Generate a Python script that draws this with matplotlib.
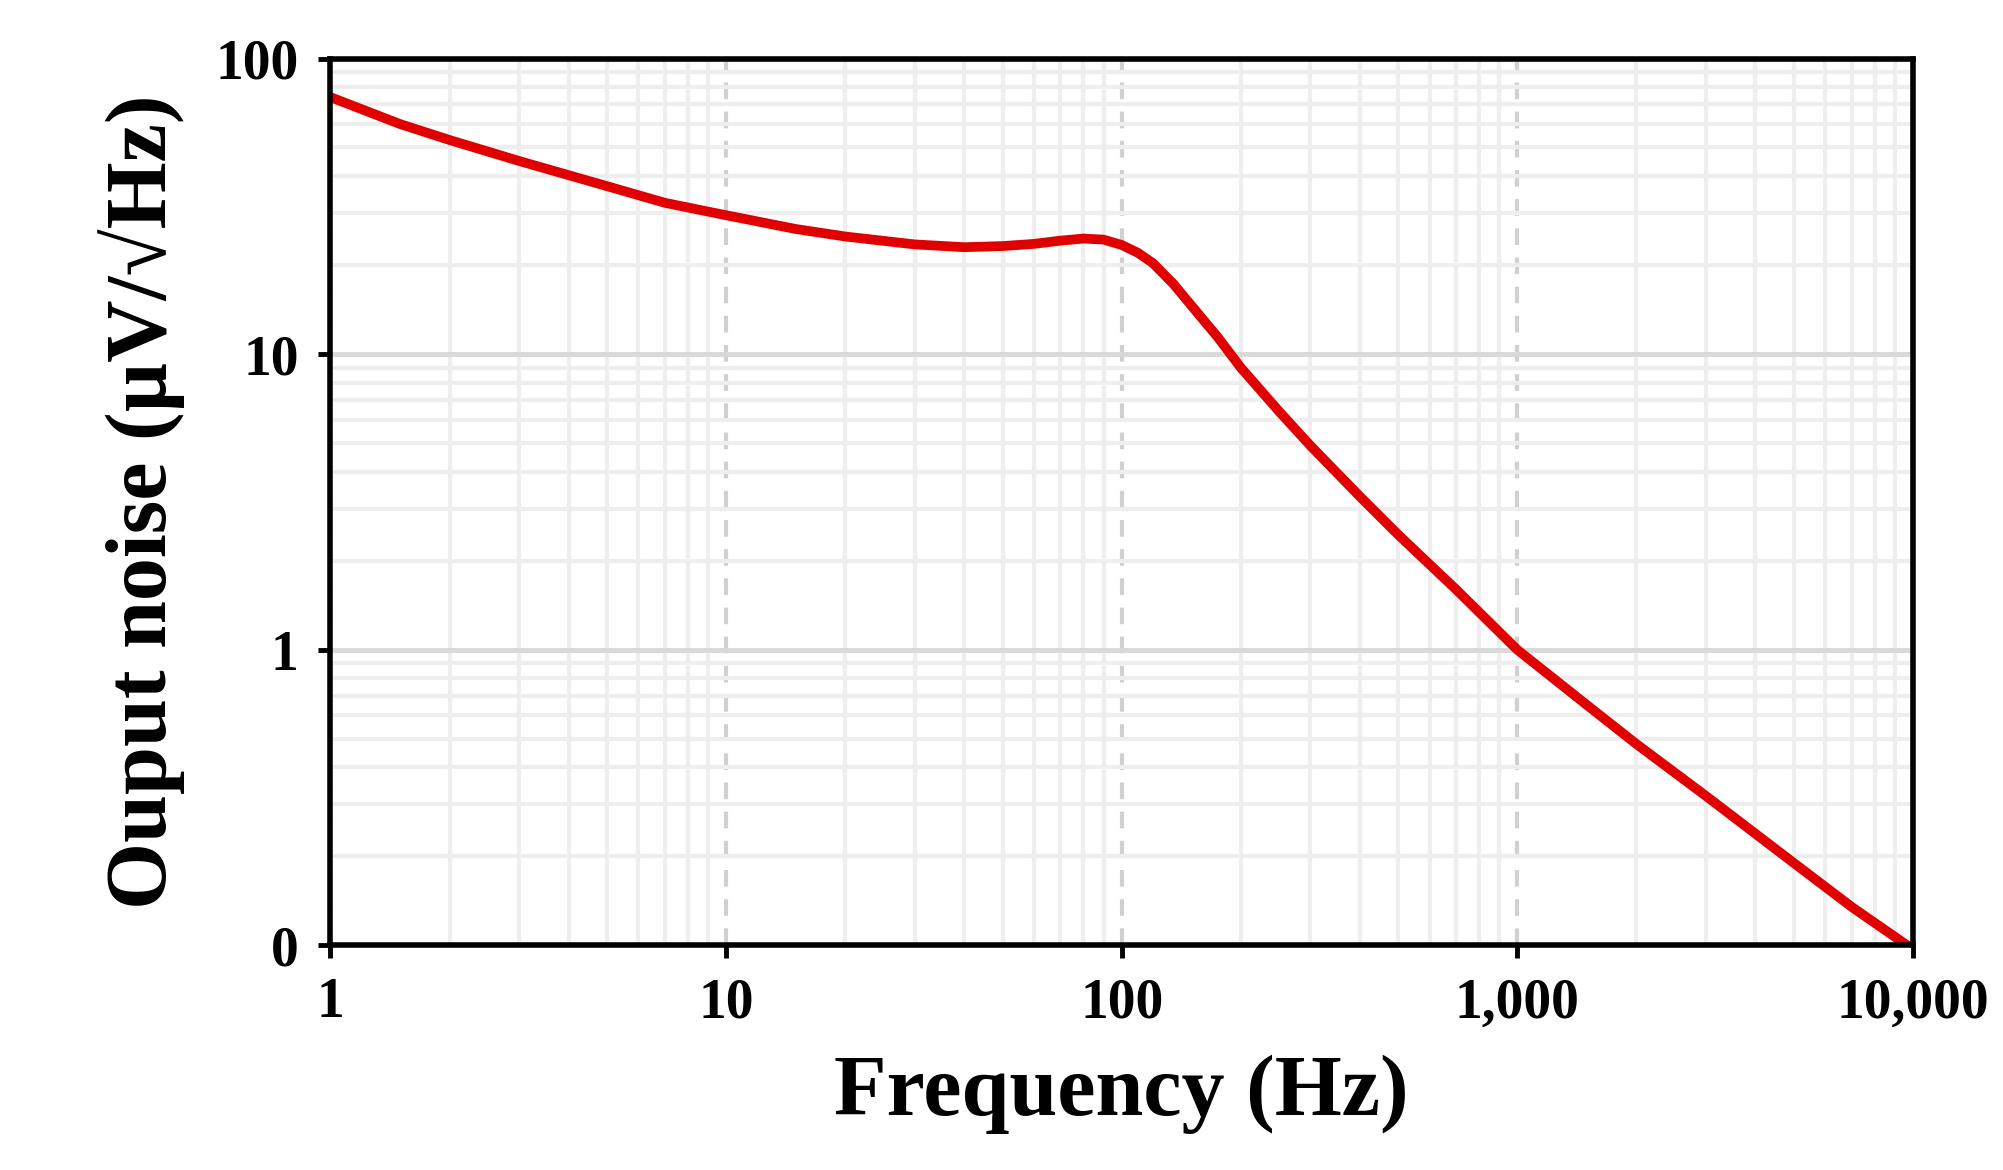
import matplotlib.pyplot as plt
from matplotlib.ticker import FixedLocator, FixedFormatter, LogLocator, NullFormatter

# values
freq = [1, 1.5, 2, 3, 5, 7, 10, 15, 20, 30, 40, 50, 60, 70, 80, 90, 100, 110, 120, 135, 150,
        175, 200, 250, 300, 400, 500, 700, 1000, 1500, 2000, 3000, 5000, 7000, 10000]
noise = [74, 60, 53, 45, 37, 32.5, 29.5, 26.5, 25, 23.5, 23, 23.2, 23.6, 24.2, 24.6, 24.4, 23.4,
         22, 20.3, 17.3, 14.6, 11.4, 9.0, 6.4, 4.9, 3.3, 2.45, 1.6, 1.0, 0.65, 0.48, 0.32, 0.19,
         0.135, 0.097]

xticks = [1, 10, 100, 1000, 10000]
xlabels = ["1", "10", "100", "1,000", "10,000"]
yticks = [0.1, 1, 10, 100]
ylabels = ["0", "1", "10", "100"]

plt.rcParams["font.family"] = ["Liberation Serif", "DejaVu Serif"]
plt.rcParams["font.weight"] = "bold"

fig = plt.figure(figsize=(20.03, 11.70), dpi=100)
ax = fig.add_axes([0.165, 0.192, 0.79, 0.758])

ax.set_xscale("log")
ax.set_yscale("log")
ax.set_xlim(1, 10000)
ax.set_ylim(0.1, 100)

ax.xaxis.set_major_locator(FixedLocator(xticks))
ax.xaxis.set_major_formatter(FixedFormatter(xlabels))
ax.yaxis.set_major_locator(FixedLocator(yticks))
ax.yaxis.set_major_formatter(FixedFormatter(ylabels))
ax.xaxis.set_minor_locator(LogLocator(base=10, subs=range(2, 10)))
ax.yaxis.set_minor_locator(LogLocator(base=10, subs=range(2, 10)))
ax.xaxis.set_minor_formatter(NullFormatter())
ax.yaxis.set_minor_formatter(NullFormatter())

ax.grid(True, which="minor", color="#eeeeee", lw=3)
ax.grid(True, which="major", axis="y", color="#d9d9d9", lw=3.5)
ax.grid(True, which="major", axis="x", color="#d0d0d0", lw=3, ls=(0, (4, 3)))
ax.set_axisbelow(True)

ax.plot(freq, noise, color="#e00000", lw=7, solid_capstyle="round", solid_joinstyle="round")

for s in ax.spines.values():
    s.set_linewidth(4)
ax.tick_params(which="major", direction="out", length=9, width=3.5, labelsize=40, pad=14)
ax.tick_params(which="minor", length=0)

ax.set_xlabel("Frequency (Hz)", fontsize=62, fontweight="bold", labelpad=18)
ax.set_ylabel("Ouput noise (\u00b5V/\u221aHz)", fontsize=62, fontweight="bold", labelpad=22)

fig.savefig("out.png", dpi=100)
